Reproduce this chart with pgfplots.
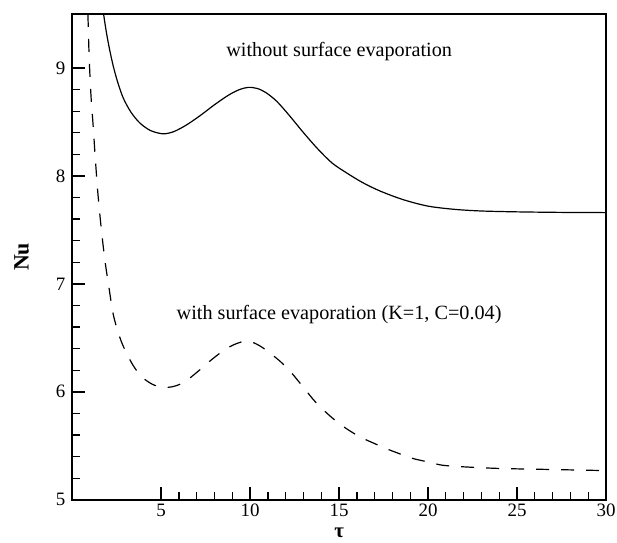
\documentclass[border=0pt]{standalone}
\usepackage{fontspec}
\setmainfont{Liberation Serif}
\usepackage{pgfplots}
\pgfplotsset{compat=1.18}
\begin{document}
\begin{tikzpicture}
\begin{axis}[
  at={(0,0)}, anchor=south west,
  width=267bp, height=243bp, scale only axis,
  xmin=0, xmax=30, ymin=5, ymax=9.5,
  xtick={5,10,...,30}, ytick={5,6,...,9},
  minor tick num=4,
  tick pos=left, tick align=inside,
  major tick length=6.25bp, minor tick length=3.75bp,
  major tick style={line width=1bp, black},
  minor tick style={line width=0.6bp, black},
  axis line style={line width=1bp},
  /pgf/number format/assume math mode=true,
  ticklabel style={font=\fontsize{9.5}{11}\selectfont},
  xticklabel style={yshift=1.5bp},
  xlabel={\bfseries τ}, ylabel={\bfseries Nu},
  ylabel style={font=\fontsize{11}{13}\selectfont,
    at={(axis description cs:-0.0948,0.5)}, anchor=center},
  xlabel style={font=\fontsize{10.5}{12}\selectfont,
    at={(axis description cs:0.5,-0.068)}, anchor=center, inner sep=0pt},
]
% without surface evaporation
\addplot[black, line width=0.6bp, smooth] coordinates {
  (1.76,9.5) (1.85,9.40) (1.95,9.30) (2.1,9.17) (2.3,9.02)
  (2.55,8.87) (2.87,8.72) (3.3,8.59) (3.8,8.49) (4.4,8.42)
  (5.1,8.39) (5.7,8.41) (6.4,8.47) (7.2,8.56) (8.0,8.66)
  (8.8,8.75) (9.4,8.80) (9.9,8.82) (10.4,8.81) (10.9,8.77)
  (11.5,8.69) (12.2,8.56) (13.0,8.40) (13.8,8.25) (14.6,8.12)
  (15.4,8.03) (16.3,7.94) (17.3,7.86) (18.6,7.78) (20.0,7.72)
  (21.5,7.69) (23,7.675) (25,7.667) (27.5,7.662) (30,7.66)
};
% with surface evaporation
\addplot[black, line width=0.6bp, smooth, dash pattern=on 6.5bp off 6bp] coordinates {
  (0.88,9.5) (0.95,9.1) (1.05,8.75) (1.18,8.45) (1.3,8.15)
  (1.45,7.82) (1.65,7.48) (1.85,7.2) (2.05,6.98) (2.3,6.72)
  (2.6,6.54) (2.9,6.41) (3.4,6.25) (3.9,6.14) (4.5,6.07)
  (5.1,6.04) (5.7,6.05) (6.3,6.09) (7.0,6.18) (7.7,6.28)
  (8.4,6.37) (9.0,6.43) (9.6,6.465) (10.1,6.46) (10.6,6.42)
  (11.1,6.36) (11.7,6.28) (12.3,6.18) (13.0,6.04) (13.7,5.9)
  (14.6,5.76) (15.4,5.66) (16.2,5.58) (17.0,5.52) (17.7,5.47)
  (18.5,5.42) (19.2,5.38) (20.0,5.35) (20.8,5.32) (22,5.305)
  (24,5.29) (27,5.28) (30,5.27)
};
\node[font=\fontsize{10.15}{12}\selectfont] at (axis cs:15,9.15) {without surface evaporation};
\node[font=\fontsize{10.15}{12}\selectfont] at (axis cs:15,6.72) {with surface evaporation (K=1, C=0.04)};
\end{axis}
\pgfresetboundingbox
\useasboundingbox (-36.15bp,-21.5bp) rectangle (272.5bp,250bp);
\end{tikzpicture}
\end{document}
